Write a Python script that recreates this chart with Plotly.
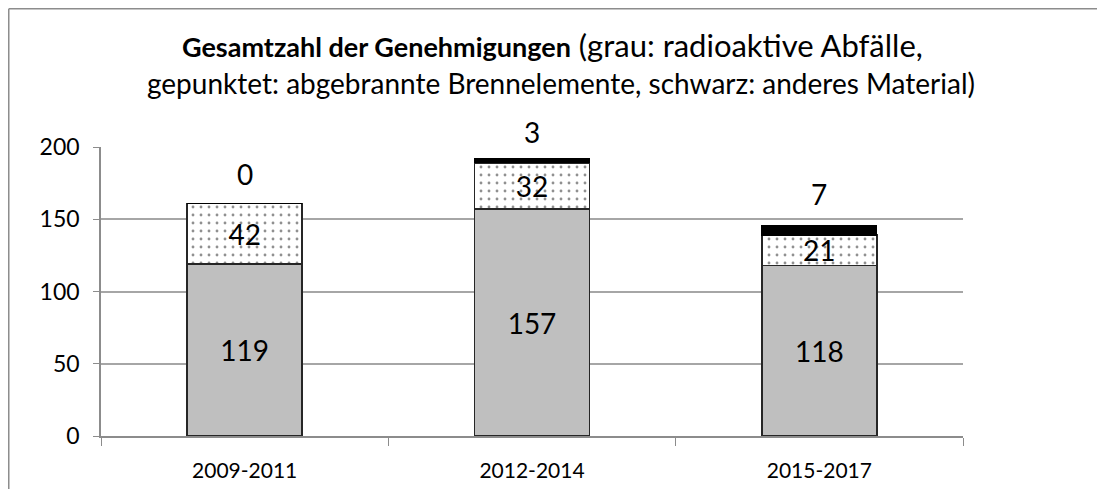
import plotly.graph_objects as go

categories = ["2009-2011", "2012-2014", "2015-2017"]
radioaktive = [119, 157, 118]
brennelemente = [42, 32, 21]
anderes = [0, 3, 7]
y_ticks = [0, 50, 100, 150, 200]

title_bold = "Gesamtzahl der Genehmigungen"
title_rest1 = "(grau: radioaktive Abfälle,"
title_line2 = "gepunktet: abgebrannte Brennelemente, schwarz: anderes Material)"

FONT = "Lato, Carlito, Calibri, sans-serif"

fig = go.Figure()
fig.add_trace(go.Bar(
    x=categories, y=radioaktive, name="radioaktive Abfälle",
    marker=dict(color="#BFBFBF", line=dict(color="#262626", width=1.5)),
    text=[str(v) for v in radioaktive], textposition="inside", insidetextanchor="middle",
    textangle=0, constraintext="none",
    textfont=dict(size=28, color="black", family=FONT), width=0.4,
))
fig.add_trace(go.Bar(
    x=categories, y=brennelemente, name="abgebrannte Brennelemente",
    marker=dict(color="white", line=dict(color="#262626", width=1.5),
                pattern=dict(shape=".", fgcolor="#222222", bgcolor="white", size=8, solidity=0.1)),
    text=[str(v) for v in brennelemente], textposition="inside", insidetextanchor="middle",
    textangle=0, constraintext="none",
    textfont=dict(size=28, color="black", family=FONT), width=0.4,
))
fig.add_trace(go.Bar(
    x=categories, y=anderes, name="anderes Material",
    marker=dict(color="black", line=dict(color="black", width=1)),
    width=0.4, textposition="none",
))

# labels for the black segments, placed above the bars
offsets = [29, 27, 31]
for i, c in enumerate(categories):
    total = radioaktive[i] + brennelemente[i] + anderes[i]
    fig.add_annotation(x=c, y=total, text=str(anderes[i]), showarrow=False,
                       yanchor="middle", yshift=offsets[i],
                       font=dict(size=28, color="black", family=FONT))

# title (two lines)
fig.add_annotation(xref="paper", yref="paper", x=0.524, y=1.353, xanchor="center", yanchor="middle",
                   showarrow=False,
                   text=f"<span style='font-size:27px'><b>{title_bold}</b></span> {title_rest1}",
                   font=dict(size=31, family=FONT, color="black"))
fig.add_annotation(xref="paper", yref="paper", x=0.5336, y=1.2215, xanchor="center", yanchor="middle",
                   showarrow=False, text=title_line2,
                   font=dict(size=28, family=FONT, color="black"))

# outer chart border (left and top edges)
fig.add_shape(type="line", xref="paper", yref="paper", x0=-0.1070, x1=-0.1070, y0=-0.3, y1=1.4784,
              line=dict(color="#8C8C8C", width=1.5))
fig.add_shape(type="line", xref="paper", yref="paper", x0=-0.1070, x1=1.3, y0=1.4784, y1=1.4784,
              line=dict(color="#8C8C8C", width=1.5))

fig.update_layout(
    barmode="stack",
    width=1105, height=489,
    margin=dict(l=93, r=150, t=139, b=61),
    paper_bgcolor="white", plot_bgcolor="white",
    showlegend=False,
    font=dict(family=FONT, color="black"),
    xaxis=dict(
        showline=True, linecolor="#8C8C8C", linewidth=1.5,
        ticks="outside", tickson="boundaries", ticklen=8, tickcolor="#8C8C8C",
        ticklabelstandoff=15,
        tickfont=dict(size=21, family=FONT), showgrid=False,
    ),
    yaxis=dict(
        range=[0, 200], tickvals=y_ticks, showline=True, linecolor="#8C8C8C", linewidth=1.5,
        ticks="outside", ticklen=6, tickcolor="#8C8C8C", ticklabelstandoff=9,
        showgrid=True, gridcolor="#A6A6A6", gridwidth=1.5, zeroline=False,
        tickfont=dict(size=23, family=FONT),
    ),
)

fig.write_html("out.html")
